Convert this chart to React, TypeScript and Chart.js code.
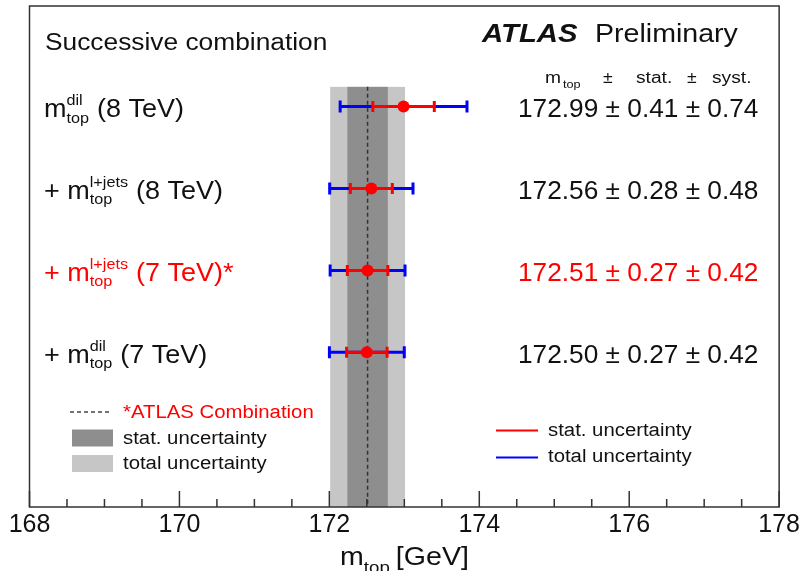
import React, { useEffect, useRef } from "react";
import { Chart, registerables } from "chart.js";

Chart.register(...registerables);

// ---- data ----
const rowPos = [1, 2, 3, 4];
const rowPrefix = ["", "+ ", "+ ", "+ "];
const rowChannel = ["dil", "l+jets", "l+jets", "dil"];
const rowEnergy = ["(8 TeV)", "(8 TeV)", "(7 TeV)*", "(7 TeV)"];
const rowHighlight = [false, false, true, false];
const masses = [172.99, 172.56, 172.51, 172.5];
const statErr = [0.41, 0.28, 0.27, 0.27];
const systErr = [0.74, 0.48, 0.42, 0.42];

const combMass = 172.51;
const combStat = 0.27;
const combSyst = 0.42;
const bandTop = 0.76;

const xMin = 168;
const xMax = 178;
const minorStep = 0.5;
const majorStep = 2;

const FONT = '"Liberation Sans", Arial, Helvetica, sans-serif';
const RED = "#ff0000";
const BLUE = "#0000ff";
const TXT = "#111111";

function txt(
  ctx: CanvasRenderingContext2D,
  s: string,
  x: number,
  y: number,
  size: number,
  color: string,
  sx = 1,
  style = ""
): number {
  ctx.save();
  ctx.font = `${style} ${size}px ${FONT}`;
  ctx.fillStyle = color;
  ctx.textAlign = "left";
  ctx.textBaseline = "alphabetic";
  ctx.translate(x, y);
  ctx.scale(sx, 1);
  ctx.fillText(s, 0, 0);
  const w = ctx.measureText(s).width * sx;
  ctx.restore();
  return w;
}

const total = (a: number, b: number) => Math.sqrt(a * a + b * b);

const overlay = {
  id: "overlay",
  beforeDatasetsDraw(chart: any) {
    const ctx: CanvasRenderingContext2D = chart.ctx;
    const xs = chart.scales.x;
    const ys = chart.scales.y;
    const area = chart.chartArea;
    const ct = total(combStat, combSyst);
    const yTop = ys.getPixelForValue(bandTop);
    ctx.save();
    // total band
    ctx.fillStyle = "#c6c6c6";
    const l1 = xs.getPixelForValue(combMass - ct);
    const r1 = xs.getPixelForValue(combMass + ct);
    ctx.fillRect(l1, yTop, r1 - l1, area.bottom - yTop);
    ctx.fillStyle = "#8e8e8e";
    const l2 = xs.getPixelForValue(combMass - combStat);
    const r2 = xs.getPixelForValue(combMass + combStat);
    ctx.fillRect(l2, yTop, r2 - l2, area.bottom - yTop);
    // dashed line
    ctx.strokeStyle = "#333";
    ctx.lineWidth = 1.5;
    ctx.setLineDash([4, 3]);
    const xc = xs.getPixelForValue(combMass);
    ctx.beginPath();
    ctx.moveTo(xc, yTop);
    ctx.lineTo(xc, area.bottom);
    ctx.stroke();
    ctx.setLineDash([]);

    // error bars
    masses.forEach((m, i) => {
      const y = ys.getPixelForValue(rowPos[i]);
      const t = total(statErr[i], systErr[i]);
      const bl = xs.getPixelForValue(m - t);
      const br = xs.getPixelForValue(m + t);
      const sl = xs.getPixelForValue(m - statErr[i]);
      const sr = xs.getPixelForValue(m + statErr[i]);
      ctx.lineWidth = 3;
      ctx.strokeStyle = BLUE;
      ctx.beginPath();
      ctx.moveTo(bl, y);
      ctx.lineTo(br, y);
      ctx.moveTo(bl, y - 6);
      ctx.lineTo(bl, y + 6);
      ctx.moveTo(br, y - 6);
      ctx.lineTo(br, y + 6);
      ctx.stroke();
      ctx.strokeStyle = RED;
      ctx.beginPath();
      ctx.moveTo(sl, y);
      ctx.lineTo(sr, y);
      ctx.moveTo(sl, y - 5.5);
      ctx.lineTo(sl, y + 5.5);
      ctx.moveTo(sr, y - 5.5);
      ctx.lineTo(sr, y + 5.5);
      ctx.stroke();
    });
    ctx.restore();
  },
  afterDraw(chart: any) {
    const ctx: CanvasRenderingContext2D = chart.ctx;
    const xs = chart.scales.x;
    const ys = chart.scales.y;
    const area = chart.chartArea;
    ctx.save();
    // frame
    ctx.strokeStyle = "#333";
    ctx.lineWidth = 1.5;
    ctx.strokeRect(area.left, area.top, area.right - area.left, area.bottom - area.top);
    // ticks
    ctx.beginPath();
    for (let v = xMin; v <= xMax + 1e-9; v += minorStep) {
      const px = xs.getPixelForValue(v);
      const major = Math.abs(v / majorStep - Math.round(v / majorStep)) < 1e-6;
      ctx.moveTo(px, area.bottom);
      ctx.lineTo(px, area.bottom - (major ? 16 : 8));
    }
    ctx.stroke();
    ctx.restore();

    // header texts
    txt(ctx, "Successive combination", 45, 50, 23.5, TXT, 1.12);
    txt(ctx, "ATLAS", 482, 41.5, 25.5, TXT, 1.15, "italic bold");
    txt(ctx, "Preliminary", 595, 41.5, 25.5, TXT, 1.12);

    // column header
    txt(ctx, "m", 545, 82.5, 16, TXT, 1.2);
    txt(ctx, "top", 563, 88, 11, TXT, 1.15);
    txt(ctx, "\u00b1", 603, 82.5, 16, TXT, 1.1);
    txt(ctx, "stat.", 636, 82.5, 16, TXT, 1.2);
    txt(ctx, "\u00b1", 687, 82.5, 16, TXT, 1.1);
    txt(ctx, "syst.", 712, 82.5, 16, TXT, 1.2);

    // rows
    rowPos.forEach((r, i) => {
      const y = ys.getPixelForValue(r);
      const col = rowHighlight[i] ? RED : TXT;
      let x = 44;
      if (rowPrefix[i]) x += txt(ctx, rowPrefix[i], x, y + 10.5, 25, col, 1.08);
      x += txt(ctx, "m", x, y + 10.5, 25, col, 1.08);
      const w1 = txt(ctx, rowChannel[i], x, y - 1.5, 15, col, 1.08);
      const w2 = txt(ctx, "top", x, y + 16, 15, col, 1.08);
      x += Math.max(w1, w2) + 8;
      txt(ctx, rowEnergy[i], x, y + 10.5, 25, col, 1.08);
      const val = `${masses[i].toFixed(2)} \u00b1 ${statErr[i].toFixed(2)} \u00b1 ${systErr[i].toFixed(2)}`;
      txt(ctx, val, 518, y + 10.5, 25, col, 1.05);
    });

    // left legend
    ctx.save();
    ctx.strokeStyle = "#444";
    ctx.lineWidth = 1.5;
    ctx.setLineDash([4, 3]);
    ctx.beginPath();
    ctx.moveTo(70, 412);
    ctx.lineTo(110, 412);
    ctx.stroke();
    ctx.setLineDash([]);
    ctx.fillStyle = "#8e8e8e";
    ctx.fillRect(72, 429.5, 41, 17);
    ctx.fillStyle = "#c6c6c6";
    ctx.fillRect(72, 455, 41, 17);
    ctx.restore();
    txt(ctx, "*ATLAS Combination", 123, 417.5, 18, RED, 1.13);
    txt(ctx, "stat. uncertainty", 123, 444, 18, TXT, 1.13);
    txt(ctx, "total uncertainty", 123, 468.5, 18, TXT, 1.13);

    // right legend
    ctx.save();
    ctx.lineWidth = 2;
    ctx.strokeStyle = RED;
    ctx.beginPath();
    ctx.moveTo(496, 430.5);
    ctx.lineTo(538, 430.5);
    ctx.stroke();
    ctx.strokeStyle = BLUE;
    ctx.beginPath();
    ctx.moveTo(496, 457.5);
    ctx.lineTo(538, 457.5);
    ctx.stroke();
    ctx.restore();
    txt(ctx, "stat. uncertainty", 548, 435.5, 18, TXT, 1.13);
    txt(ctx, "total uncertainty", 548, 462, 18, TXT, 1.13);

    // axis title
    let ax = 340;
    ax += txt(ctx, "m", ax, 565, 26, TXT, 1.1);
    const ws = txt(ctx, "top", ax, 573, 17, TXT, 1.1);
    ax += ws + 6;
    txt(ctx, "[GeV]", ax, 565, 26, TXT, 1.1);
  },
};

export default function App() {
  const ref = useRef<HTMLCanvasElement | null>(null);
  useEffect(() => {
    if (!ref.current) return;
    const chart = new Chart(ref.current, {
      type: "scatter",
      data: {
        datasets: [
          {
            label: "m_top",
            data: masses.map((m, i) => ({ x: m, y: rowPos[i] })),
            backgroundColor: RED,
            borderWidth: 0,
            pointRadius: 6,
            pointHoverRadius: 6,
          },
        ],
      },
      options: {
        animation: false,
        responsive: false,
        events: [],
        layout: { padding: { left: 29.5, right: 23, top: 6, bottom: 0 } },
        plugins: { legend: { display: false }, tooltip: { enabled: false } },
        scales: {
          x: {
            type: "linear",
            min: xMin,
            max: xMax,
            border: { display: false },
            grid: { display: false, drawTicks: false },
            afterFit: (s: any) => {
              s.height = 64;
            },
            ticks: {
              stepSize: minorStep,
              autoSkip: false,
              maxRotation: 0,
              padding: 3,
              color: "#111",
              font: { family: FONT, size: 25 },
              callback: (v: any) => (Math.abs(v % majorStep) < 1e-6 ? String(v) : ""),
            },
          },
          y: {
            type: "linear",
            display: false,
            reverse: true,
            min: -0.227,
            max: 5.888,
          },
        },
      },
      plugins: [overlay],
    } as any);
    return () => chart.destroy();
  }, []);
  return (
    <div style={{ position: "absolute", left: 0, top: 0, width: 803, height: 571, background: "#fff" }}>
      <canvas ref={ref} width={803} height={571} />
    </div>
  );
}
